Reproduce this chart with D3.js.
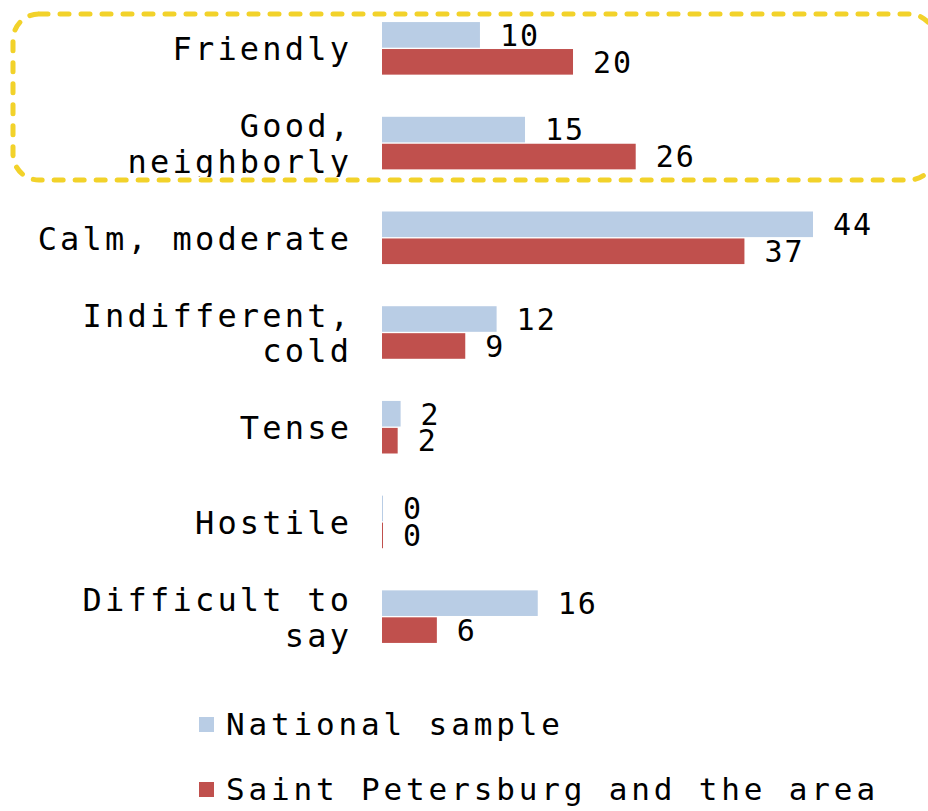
<!DOCTYPE html>
<html>
<head>
<meta charset="utf-8">
<script src="https://cdn.jsdelivr.net/npm/d3@7"></script>
<style>
  html, body { margin: 0; padding: 0; background: #fff; }
  svg { display: block; }
</style>
</head>
<body>
<svg id="chart"></svg>
<script>
// categories, top to bottom ("\n" = line break in the label)
const categories = ["Friendly", "Good,\nneighborly", "Calm, moderate", "Indifferent,\ncold", "Tense", "Hostile", "Difficult to\nsay"];
const seriesNames = ["National sample", "Saint Petersburg and the area"];
// values; labels show them rounded
const nationalValues = [10, 14.6, 44, 11.7, 1.9, 0.1, 15.9];
const spbValues = [19.5, 25.9, 37, 8.5, 1.6, 0.1, 5.6];
const colors = ["#B9CDE5", "#C0504D"];

const width = 928, height = 811;
const fontFam = "'DejaVu Sans Mono', 'Liberation Mono', monospace";

const svg = d3.select("#chart")
    .attr("width", width)
    .attr("height", height);

const data = categories.map((c, i) => ({
    cat: c,
    vals: [
        { s: 0, v: nationalValues[i] },
        { s: 1, v: spbValues[i] }
    ]
}));

const xScale = d3.scaleLinear()
    .domain([0, 44])
    .range([382, 813]);

const yScale = d3.scaleBand()
    .domain(categories)
    .range([1, 664])
    .paddingInner(0.445)
    .paddingOuter(0.2225);

const ySub = d3.scaleBand()
    .domain([0, 1])
    .range([0, yScale.bandwidth()])
    .paddingInner(0.05);

// yellow dashed highlight box (behind everything)
svg.append("rect")
    .attr("x", 13)
    .attr("y", 14)
    .attr("width", 922)
    .attr("height", 166)
    .attr("rx", 26)
    .attr("fill", "none")
    .attr("stroke", "#F2D22A")
    .attr("stroke-width", 5)
    .attr("stroke-dasharray", "9,12")
    .attr("stroke-linecap", "round");

const groups = svg.selectAll(".grp")
    .data(data)
    .enter()
    .append("g")
    .attr("class", "grp")
    .attr("transform", d => `translate(0,${yScale(d.cat)})`);

// clip for the "neighborly" label, which is cut off at the box edge (group-local coords)
svg.append("clipPath")
    .attr("id", "clipTop")
    .append("rect")
    .attr("x", 0)
    .attr("y", -yScale(categories[1]))
    .attr("width", 380)
    .attr("height", 177);

groups.selectAll("rect")
    .data(d => d.vals)
    .enter()
    .append("rect")
    .attr("x", xScale(0))
    .attr("y", d => ySub(d.s))
    .attr("width", d => Math.max(1, xScale(d.v) - xScale(0)))
    .attr("height", ySub.bandwidth())
    .attr("fill", d => colors[d.s]);

// value labels
const valSize = 30;
groups.selectAll(".val")
    .data(d => d.vals)
    .enter()
    .append("text")
    .attr("class", "val")
    .attr("x", d => xScale(d.v) + 20)
    .attr("y", d => ySub(d.s) + ySub.bandwidth() / 2 + valSize * 0.36)
    .style("font-family", fontFam)
    .style("font-size", valSize + "px")
    .style("letter-spacing", "2px")
    .attr("fill", "#000")
    .text(d => Math.round(d.v));

// category labels
const labSize = 32, labLs = 3.2;
groups.append("text")
    .attr("text-anchor", "end")
    .style("font-family", fontFam)
    .style("font-size", labSize + "px")
    .style("letter-spacing", labLs + "px")
    .attr("fill", "#000")
    .attr("clip-path", (d, i) => i === 1 ? "url(#clipTop)" : null)
    .each(function(d) {
        const lines = d.cat.split("\n");
        const mid = yScale.bandwidth() / 2;
        const t = d3.select(this);
        if (lines.length === 1) {
            t.append("tspan").attr("x", 349 + labLs).attr("y", mid + 12).text(lines[0]);
        } else {
            t.append("tspan").attr("x", 349 + labLs).attr("y", mid - 6).text(lines[0]);
            t.append("tspan").attr("x", 349 + labLs).attr("y", mid + 30).text(lines[1]);
        }
    });

// legend
const legend = svg.append("g");
const legY = [717, 782];
seriesNames.forEach((name, i) => {
    legend.append("rect")
        .attr("x", 199)
        .attr("y", legY[i])
        .attr("width", 15)
        .attr("height", 15)
        .attr("fill", colors[i]);
    legend.append("text")
        .attr("x", 226)
        .attr("y", legY[i] + 18)
        .style("font-family", fontFam)
        .style("font-size", "31px")
        .style("letter-spacing", "3.85px")
        .attr("fill", "#000")
        .text(name);
});
</script>
</body>
</html>
